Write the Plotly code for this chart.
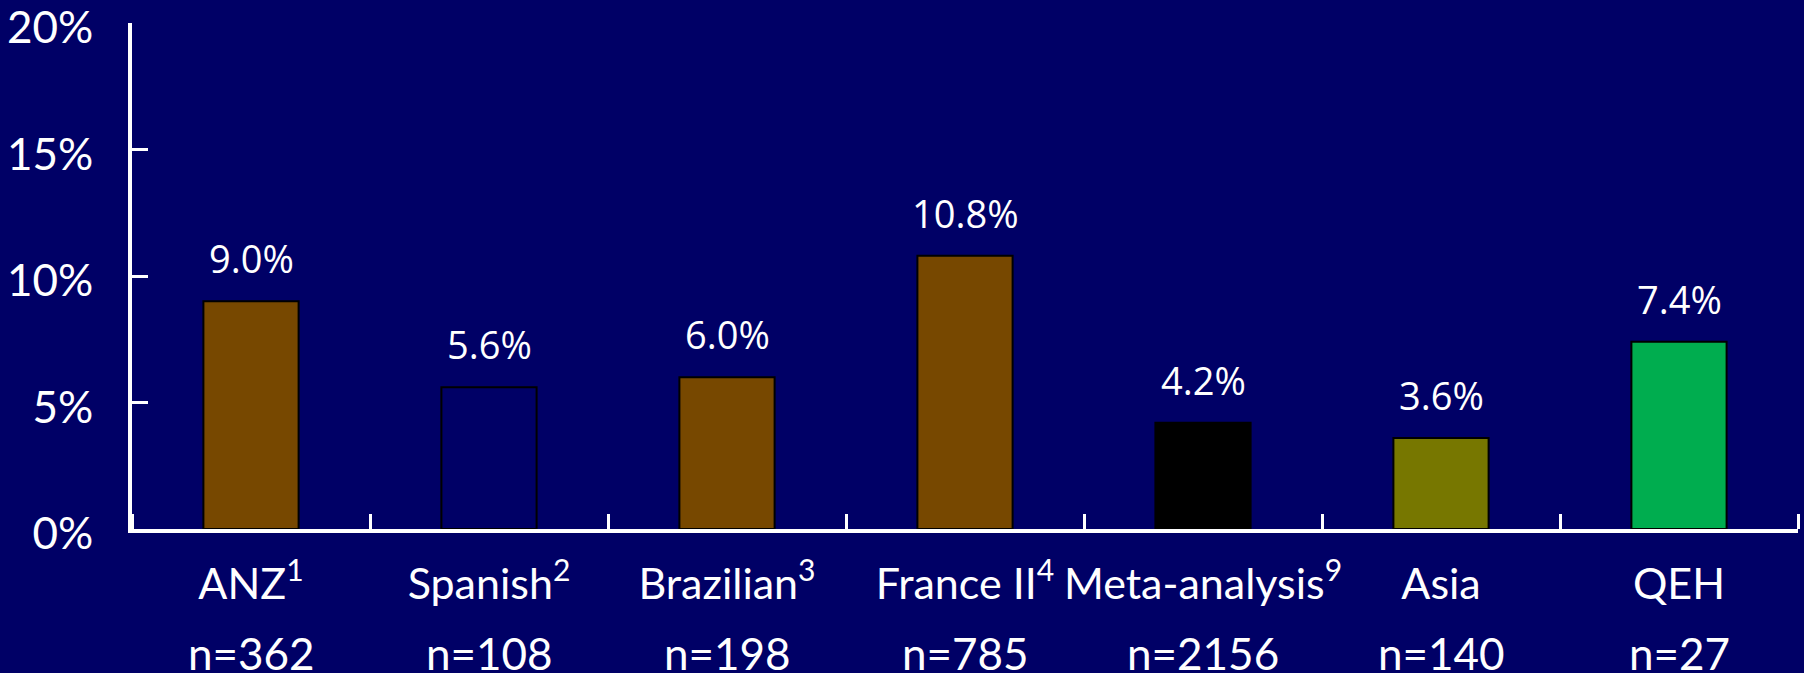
import plotly.graph_objects as go

categories = ["ANZ<sup>1</sup>", "Spanish<sup>2</sup>", "Brazilian<sup>3</sup>", "France II<sup>4</sup>",
              "Meta-analysis<sup>9</sup>", "Asia", "QEH"]
values = [9.0, 5.6, 6.0, 10.8, 4.2, 3.6, 7.4]
value_labels = ["9.0%", "5.6%", "6.0%", "10.8%", "4.2%", "3.6%", "7.4%"]
n_labels = ["n=362", "n=108", "n=198", "n=785", "n=2156", "n=140", "n=27"]
bar_colors = ["#774800", "#000066", "#774800", "#774800", "#000000", "#777700", "#00AD4F"]
y_tickvals = [0, 5, 10, 15, 20]
y_ticktext = ["0%", "5%", "10%", "15%", "20%"]

BG = "#000066"
x_idx = list(range(len(categories)))

fig = go.Figure()
fig.add_trace(go.Bar(
    x=x_idx, y=values,
    marker=dict(color=bar_colors, line=dict(color="#000000", width=2)),
    width=0.4, hoverinfo="skip",
))

for i, (v, t) in enumerate(zip(values, value_labels)):
    fig.add_annotation(x=i, y=v, xref="x", yref="y", text=t, showarrow=False,
                       yanchor="bottom", yshift=15,
                       font=dict(family="Open Sans", size=38, color="white"))

for i, t in enumerate(n_labels):
    fig.add_annotation(x=i, y=-0.19, xref="x", yref="paper", text=t, showarrow=False,
                       yanchor="top",
                       font=dict(family="Lato", size=44, color="white"))

fig.update_layout(
    width=1804, height=673,
    paper_bgcolor=BG, plot_bgcolor=BG,
    margin=dict(l=132, r=6, t=23, b=144, autoexpand=False),
    showlegend=False,
    font=dict(family="Lato", size=44, color="white"),
)
fig.update_xaxes(
    range=[-0.5, 6.5], tickmode="array", tickvals=x_idx, ticktext=categories,
    showline=True, linecolor="white", linewidth=4,
    ticks="", showgrid=False, zeroline=False, automargin=False,
    ticklabelstandoff=14,
    tickfont=dict(family="Lato", size=43, color="white"),
)
# boundary ticks on x axis drawn via minor ticks
fig.update_xaxes(minor=dict(tickmode="array", tickvals=[i - 0.5 for i in range(len(categories) + 1)],
                            ticks="inside", ticklen=15, tickwidth=3, tickcolor="white", showgrid=False))
fig.update_yaxes(
    range=[0, 20], tickmode="array", tickvals=y_tickvals, ticktext=y_ticktext,
    showline=True, linecolor="white", linewidth=4,
    ticks="inside", ticklen=16, tickwidth=3, tickcolor="white",
    showgrid=False, zeroline=False, automargin=False,
    ticklabelstandoff=26, ticklabeloverflow="allow", ticklabelshift=5,
    tickfont=dict(family="Lato", size=44, color="white"),
)

fig.write_html("out.html")
